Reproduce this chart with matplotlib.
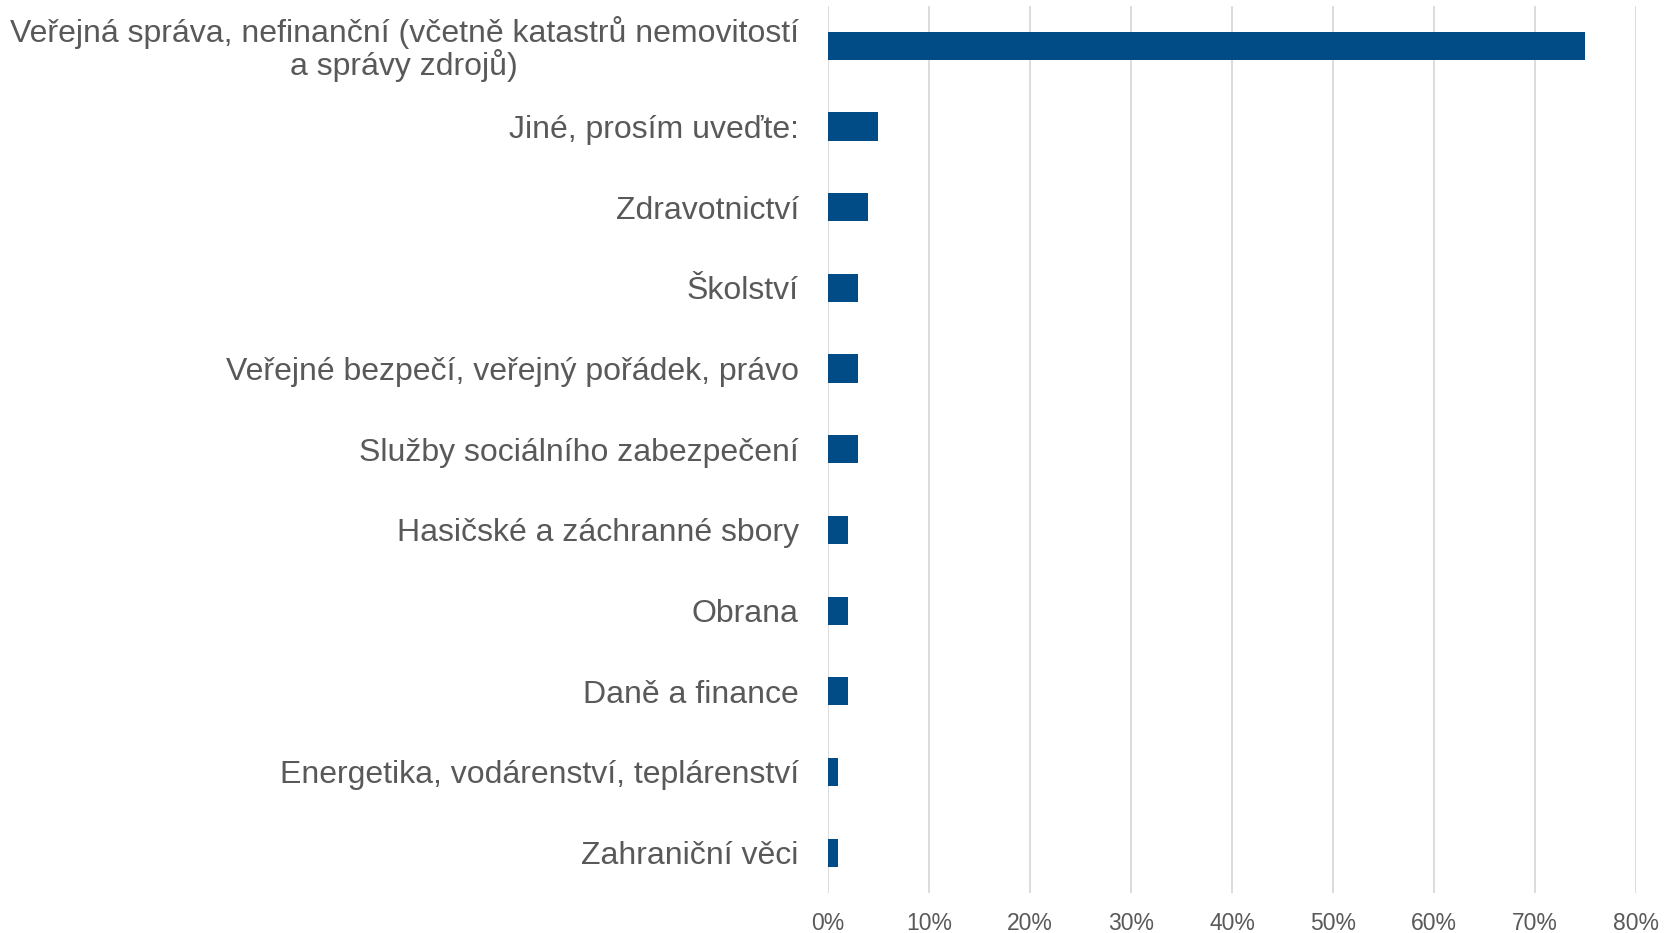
import matplotlib
matplotlib.use("Agg")
import matplotlib.pyplot as plt
from matplotlib.ticker import PercentFormatter

# ---------------- DATA ----------------

categories = [
    "Veřejná správa, nefinanční (včetně katastrů nemovitostí\na správy zdrojů)",
    "Jiné, prosím uveďte:",
    "Zdravotnictví",
    "Školství",
    "Veřejné bezpečí, veřejný pořádek, právo",
    "Služby sociálního zabezpečení",
    "Hasičské a záchranné sbory",
    "Obrana",
    "Daně a finance",
    "Energetika, vodárenství, teplárenství",
    "Zahraniční věci",
]
values = [75, 5, 4, 3, 3, 3, 2, 2, 2, 1, 1]
x_ticks = [0, 10, 20, 30, 40, 50, 60, 70, 80]

BAR_COLOR = "#014C86"
TEXT_COLOR = "#595959"
GRID_COLOR = "#D9D9D9"

plt.rcParams["font.family"] = ["Liberation Sans", "DejaVu Sans"]

# ------------------------------------------------

fig = plt.figure(figsize=(16.74, 9.33), dpi=100)
ax = fig.add_axes([0.4946, 0.0429, 0.4827, 0.9511])

y = list(range(len(categories)))
ax.barh(y, values, height=0.35, color=BAR_COLOR, zorder=3)

ax.set_ylim(len(categories) - 0.5, -0.5)
ax.set_xlim(0, 80)
ax.set_xticks(x_ticks)
ax.xaxis.set_major_formatter(PercentFormatter(decimals=0))

ax.set_yticks(y)
ax.set_yticklabels(categories)
first = ax.get_yticklabels()[0]
first.set_multialignment("center")
first.set_linespacing(1.0)

ax.tick_params(axis="y", length=0, pad=21, labelsize=23, labelcolor=TEXT_COLOR)
ax.tick_params(axis="x", length=0, pad=14, labelsize=16.5, labelcolor=TEXT_COLOR)

ax.grid(axis="x", color=GRID_COLOR, linewidth=1.3, zorder=0)
ax.set_axisbelow(True)
for spine in ax.spines.values():
    spine.set_visible(False)

fig.savefig("out.png", dpi=100)
plt.close(fig)
